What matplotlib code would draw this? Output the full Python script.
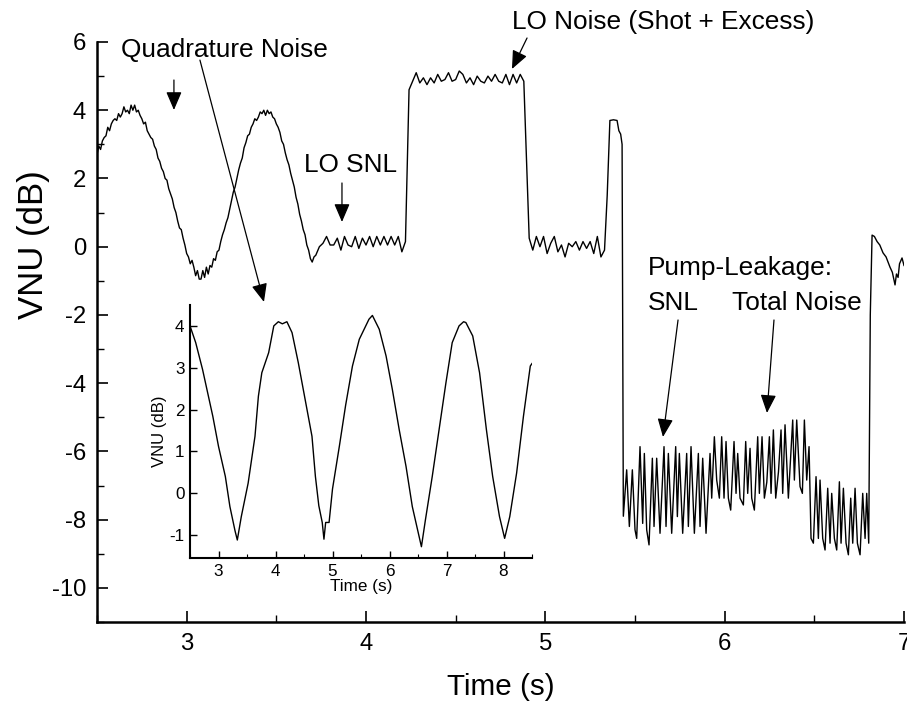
import numpy as np
import matplotlib
matplotlib.use("Agg")
import matplotlib.pyplot as plt
from matplotlib.ticker import MultipleLocator
from matplotlib import font_manager as fm

_avail = {f.name for f in fm.fontManager.ttflist}
if 'Liberation Sans Narrow' in _avail:
    NARROW, K = 'Liberation Sans Narrow', 1.0
else:
    NARROW, K = 'Liberation Sans', 0.82
plt.rcParams['font.family'] = [NARROW, 'DejaVu Sans']
plt.rcParams['axes.unicode_minus'] = False
WIDE = ['Liberation Sans', 'DejaVu Sans']

# ---------------- main trace data (time in s, VNU in dB) ----------------
# quadrature noise segment, 2.50 .. 3.72 s (0.01 s steps)
quad_v = [2.7, 2.95, 2.85, 3.1, 3.2, 3.25, 3.5, 3.4, 3.6, 3.7, 3.75, 3.7, 3.9, 3.8,
          3.9, 4.1, 3.95, 4.0, 3.9, 4.15, 4.0, 4.15, 3.95, 4.0, 3.85, 3.75, 3.6,
          3.65, 3.4, 3.3, 3.2, 3.15, 2.95, 2.85, 2.6, 2.5, 2.3, 2.2, 2.0, 1.95, 1.7,
          1.55, 1.4, 1.15, 1.0, 0.75, 0.55, 0.5, 0.25, 0.05, -0.2, -0.3, -0.5, -0.4,
          -0.6, -0.85, -0.7, -0.95, -0.95, -0.7, -0.9, -0.6, -0.8, -0.55, -0.6,
          -0.35, -0.4, -0.15, -0.1, 0.15, 0.35, 0.5, 0.7, 0.85, 1.1, 1.35, 1.6, 1.75,
          2.0, 2.25, 2.45, 2.6, 2.9, 3.05, 3.25, 3.3, 3.5, 3.6, 3.75, 3.7, 3.8, 3.95,
          3.9, 4.0, 3.85, 4.0, 3.9, 3.95, 3.8, 3.75, 3.6, 3.5, 3.35, 3.1, 3.0, 2.75,
          2.55, 2.4, 2.15, 1.95, 1.75, 1.45, 1.25, 0.95, 0.75, 0.5, 0.35, 0.05, -0.1,
          -0.35, -0.45, -0.3, -0.25]
# LO shot-noise level, 3.74 .. 4.22 s
snl_v = [0.0, 0.1, 0.3, 0.05, 0.05, 0.25, -0.1, 0.3, 0.05, 0.0, 0.3, -0.05, 0.25,
         0.05, 0.3, 0.0, 0.3, 0.05, 0.3, 0.05, 0.3, 0.05, 0.3, -0.15, 0.15]
# LO noise (shot + excess), 4.24 .. 4.88 s
lo_v = [4.6, 4.85, 5.1, 4.8, 4.95, 4.75, 4.95, 4.8, 5.05, 4.85, 4.9, 5.1, 4.85, 4.9,
        5.15, 5.05, 4.8, 4.95, 4.75, 5.0, 4.85, 4.8, 5.0, 4.85, 5.05, 4.85, 4.8,
        5.05, 4.75, 5.05, 4.8, 5.05, 4.85]
# second shot-noise level, 4.91 .. 5.33 s
snl2_v = [0.25, -0.1, 0.3, 0.0, 0.3, -0.2, 0.1, 0.3, -0.15, 0.05, -0.3, 0.1, 0.0,
          0.15, -0.1, 0.15, -0.05, 0.15, -0.2, 0.3, -0.3, -0.1]
# short spike
spike_t = [5.345, 5.36, 5.38, 5.40, 5.41, 5.42, 5.428]
spike_v = [1.5, 3.7, 3.72, 3.7, 3.4, 3.3, 3.0]
# pump leakage
pump_t = [5.435, 5.4536, 5.4685, 5.4852, 5.5001, 5.5094, 5.528, 5.5429, 5.5521,
          5.5652, 5.5782, 5.5968, 5.6061, 5.6209, 5.6395, 5.6618, 5.673, 5.686,
          5.7046, 5.7269, 5.7362, 5.7473, 5.7659, 5.7882, 5.7975, 5.8124, 5.831,
          5.8533, 5.8626, 5.8775, 5.8961, 5.9184, 5.9277, 5.9425, 5.9556, 5.9704,
          5.9834, 5.9964, 6.0076, 6.0206, 6.0336, 6.0522, 6.0634, 6.0727, 6.0857,
          6.1043, 6.1173, 6.1284, 6.1415, 6.1508, 6.1656, 6.1842, 6.1935, 6.2084,
          6.2214, 6.2350, 6.2493, 6.2586, 6.2716, 6.2846, 6.3000, 6.3143, 6.3236,
          6.3366, 6.3552, 6.3794, 6.3887, 6.4017, 6.4203, 6.4333, 6.4445, 6.4575,
          6.4705, 6.4816, 6.4947, 6.5095, 6.5225, 6.5318, 6.5467, 6.5597, 6.5746,
          6.5876, 6.5969, 6.6118, 6.6248, 6.6397, 6.649, 6.662, 6.6769, 6.6899,
          6.7029, 6.7141, 6.7271, 6.7401, 6.755, 6.7698, 6.7829, 6.7921, 6.8033]
pump_v = [-7.9, -6.54, -8.2, -6.54, -8.3, -8.55, -5.86, -8.11, -6.06,
          -8.3, -8.74, -6.2, -8.2, -6.2, -8.4, -5.86, -8.2, -6.06,
          -8.4, -5.86, -7.91, -6.06, -8.4, -6.06, -8.2, -5.86, -8.4,
          -6.06, -8.2, -6.2, -8.4, -6.06, -7.37, -5.57, -6.84, -7.37,
          -5.57, -7.37, -5.71, -7.37, -7.72, -5.71, -7.23, -6.06, -7.37,
          -7.57, -5.71, -7.23, -5.91, -7.37, -7.72, -5.57, -7.23, -5.57,
          -7.37, -6.9, -5.57, -7.23, -5.37, -7.37, -6.6, -5.37, -7.23,
          -5.22, -7.37, -5.08, -6.84, -5.08, -7.03, -7.23, -5.08, -6.84,
          -5.86, -8.55, -8.69, -6.74, -8.55, -6.84, -8.55, -8.89, -7.08,
          -8.69, -7.23, -8.55, -8.89, -6.89, -8.69, -7.08, -8.69, -9.03,
          -7.37, -8.69, -7.08, -8.69, -9.03, -7.23, -8.55, -7.23, -8.69]
# recovery at the end
tail_t = [6.812, 6.822, 6.835, 6.85, 6.865, 6.883, 6.90, 6.922, 6.935, 6.95,
          6.958, 6.967, 6.975, 6.989, 7.0]
tail_v = [-2.0, 0.34, 0.3, 0.15, 0.05, -0.18, -0.3, -0.6, -0.75, -1.12,
          -0.8, -0.9, -0.5, -0.33, -0.55]

t_all = np.concatenate([
    np.linspace(2.50, 3.72, len(quad_v)),
    np.linspace(3.74, 4.22, len(snl_v)),
    np.linspace(4.24, 4.88, len(lo_v)),
    np.linspace(4.91, 5.33, len(snl2_v)),
    spike_t, pump_t, tail_t])
v_all = np.concatenate([quad_v, snl_v, lo_v, snl2_v, spike_v, pump_v, tail_v])

# ---------------- inset data ----------------
inset_t = [2.5, 2.6, 2.72, 2.9, 3.0, 3.12, 3.2, 3.29, 3.33, 3.4, 3.52, 3.64, 3.7,
           3.76, 3.88, 3.97, 4.05, 4.12, 4.2, 4.29, 4.4, 4.52, 4.64, 4.7, 4.76,
           4.82, 4.85, 4.88, 4.94, 5.0, 5.12, 5.23, 5.35, 5.47, 5.64, 5.7, 5.82,
           5.94, 6.05, 6.17, 6.29, 6.4, 6.52, 6.56, 6.63, 6.75, 6.87, 6.99, 7.1,
           7.22, 7.3, 7.34, 7.46, 7.58, 7.7, 7.81, 7.93, 8.02, 8.11, 8.23, 8.35,
           8.47, 8.5]
inset_v = [4.0, 3.6, 2.96, 1.84, 1.12, 0.4, -0.32, -0.9, -1.12, -0.56, 0.24, 1.36,
           2.32, 2.88, 3.36, 4.0, 4.1, 4.05, 4.1, 3.84, 3.12, 2.24, 1.36, 0.4,
           -0.3, -0.7, -1.1, -0.7, -0.7, 0.1, 1.12, 2.1, 3.04, 3.68, 4.16, 4.25,
           3.92, 3.28, 2.48, 1.52, 0.64, -0.32, -1.04, -1.28, -0.64, 0.4, 1.52,
           2.64, 3.6, 4.0, 4.1, 4.08, 3.76, 2.88, 1.52, 0.4, -0.56, -1.08, -0.56,
           0.48, 1.84, 3.04, 3.1]

# ---------------- figure ----------------
fig = plt.figure(figsize=(9.07, 7.04), dpi=100)
ax = fig.add_axes([97/907, 82/704, 807/907, 580/704])
ax.plot(t_all, v_all, color='k', lw=1.0)
ax.set_xlim(2.5, 7)
ax.set_ylim(-11, 6)
for s in ['top', 'right']:
    ax.spines[s].set_visible(False)
for s in ['left', 'bottom']:
    ax.spines[s].set_linewidth(1.8)
ax.xaxis.set_major_locator(MultipleLocator(1))
ax.xaxis.set_minor_locator(MultipleLocator(0.5))
ax.yaxis.set_major_locator(MultipleLocator(2))
ax.yaxis.set_minor_locator(MultipleLocator(1))
ax.tick_params(which='major', direction='in', length=8, width=1.2,
               labelsize=21 * K, pad=8)
ax.tick_params(which='minor', direction='in', length=5, width=1.0)
ax.set_xlabel('Time (s)', fontsize=26 * K)
ax.xaxis.set_label_coords(0.5, -0.088)
ax.set_ylabel('VNU (dB)', fontsize=25, family=WIDE)
ax.yaxis.set_label_coords(-0.058, 0.65)

# annotations
fs = 23 * K
ax.text(2.634, 5.77, 'Quadrature Noise', fontsize=fs, va='center', ha='left')
ax.text(4.814, 6.59, 'LO Noise (Shot + Excess)', fontsize=fs, va='center',
        ha='left', clip_on=False)
ax.text(3.654, 2.40, 'LO SNL', fontsize=fs, va='center', ha='left')
ax.text(5.573, -0.62, 'Pump-Leakage:', fontsize=fs, va='center', ha='left')
ax.text(5.573, -1.65, 'SNL', fontsize=fs, va='center', ha='left')
ax.text(6.041, -1.65, 'Total Noise', fontsize=fs, va='center', ha='left')

ap = dict(arrowstyle='-|>,head_length=0.7,head_width=0.3', color='k', lw=0.9,
          shrinkA=0, shrinkB=0, mutation_scale=16)
arrows = [((2.929, 4.886), (2.929, 4.007)),
          ((3.074, 5.47), (3.431, -1.62)),
          ((3.866, 1.868), (3.866, 0.725)),
          ((4.898, 6.117), (4.814, 5.209)),
          ((5.740, -2.148), (5.656, -5.577)),
          ((6.275, -2.148), (6.236, -4.873))]
for start, end in arrows:
    ax.annotate('', xy=end, xytext=start, arrowprops=ap, annotation_clip=False)

# inset
axin = fig.add_axes([190/907, 146/704, 342/907, 253/704])
axin.plot(inset_t, inset_v, color='k', lw=1.0)
axin.set_xlim(2.5, 8.5)
axin.set_ylim(-1.55, 4.5)
for s in ['top', 'right']:
    axin.spines[s].set_visible(False)
for s in ['left', 'bottom']:
    axin.spines[s].set_linewidth(1.5)
axin.xaxis.set_major_locator(MultipleLocator(1))
axin.xaxis.set_minor_locator(MultipleLocator(0.5))
axin.yaxis.set_major_locator(MultipleLocator(1))
axin.tick_params(which='major', direction='in', length=5, width=1.0,
                 labelsize=15 * K, pad=4)
axin.tick_params(which='minor', direction='in', length=3, width=0.8)
axin.set_xlabel('Time (s)', fontsize=15 * K, labelpad=0)
axin.set_ylabel('VNU (dB)', fontsize=12, family=WIDE, labelpad=2)

fig.savefig('out.png', dpi=100)
